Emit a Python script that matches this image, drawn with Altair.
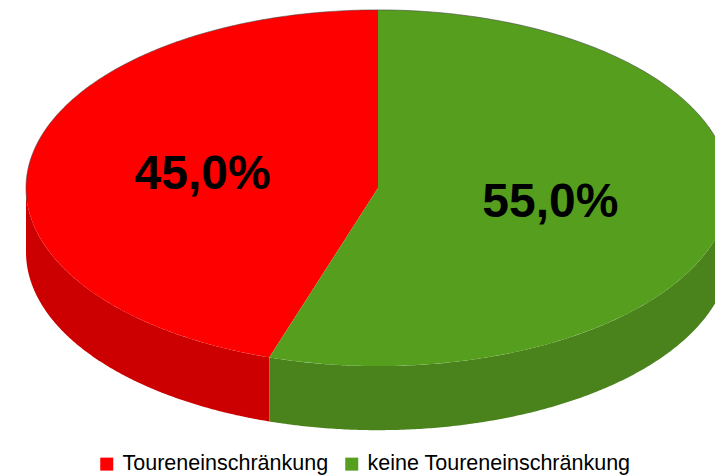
import altair as alt
import pandas as pd
import numpy as np

# ---- data ----
categories = ["Toureneinschränkung", "keine Toureneinschränkung"]
shares = [45.0, 55.0]
top_colors = ["#FF0000", "#559E1E"]
side_colors = ["#CC0000", "#4A821C"]

# ---- 3D-pie geometry (unit coordinates) ----
RY = 0.506      # vertical squash of the ellipse
DEPTH = 0.182   # thickness of the pie
N = 240
LABEL_R = 0.5

rows_top, rows_side, rows_lab = [], [], []
a0 = -shares[0] * 3.6
for cat, s, sc in zip(categories, shares, side_colors):
    a1 = a0 + s * 3.6
    # top face
    i = 0
    rows_top.append(dict(cat=cat, x=0.0, y=0.0, i=i))
    for t in np.linspace(a0, a1, N):
        i += 1
        r = np.radians(t)
        rows_top.append(dict(cat=cat, x=float(np.sin(r)), y=float(RY * np.cos(r)), i=i))
    # side face (visible front part, 90..270 deg)
    b0, b1 = (a0 + 360, a1 + 360) if a0 < 0 else (a0, a1)
    lo, hi = max(b0, 90), min(b1, 270)
    if lo < hi:
        th = np.linspace(lo, hi, N)
        j = 0
        for t in th:
            r = np.radians(t)
            rows_side.append(dict(cat=cat, col=sc, x=float(np.sin(r)), y=float(RY * np.cos(r)), i=j))
            j += 1
        for t in th[::-1]:
            r = np.radians(t)
            rows_side.append(dict(cat=cat, col=sc, x=float(np.sin(r)), y=float(RY * np.cos(r) - DEPTH), i=j))
            j += 1
    mid = np.radians((a0 + a1) / 2)
    rows_lab.append(dict(cat=cat, x=float(LABEL_R * np.sin(mid)), y=float(RY * LABEL_R * np.cos(mid)),
                         label=f"{s:.1f}".replace(".", ",") + "%"))
    a0 = a1

# back rim outline (far half of the ellipse)
rim = [dict(x=float(np.sin(np.radians(t))), y=float(RY * np.cos(np.radians(t))), i=k)
       for k, t in enumerate(np.linspace(-95, 95, N))]

top_df = pd.DataFrame(rows_top)
side_df = pd.DataFrame(rows_side)
lab_df = pd.DataFrame(rows_lab)
rim_df = pd.DataFrame(rim)

# ---- layout ----
W, H = 707, 467
PX = 352
cx_px, cy_px = 370, 180
xs = alt.Scale(domain=[-cx_px / PX, (W - cx_px) / PX], nice=False, zero=False)
ys = alt.Scale(domain=[(cy_px - H) / PX, cy_px / PX], nice=False, zero=False)

sides = alt.Chart(side_df).mark_line(filled=True, strokeWidth=0).encode(
    x=alt.X("x:Q", scale=xs, axis=None),
    y=alt.Y("y:Q", scale=ys, axis=None),
    color=alt.Color("col:N", scale=None),
    detail="cat:N",
    order=alt.Order("i:Q"),
)

tops = alt.Chart(top_df).mark_line(filled=True, strokeWidth=0).encode(
    x=alt.X("x:Q", scale=xs, axis=None),
    y=alt.Y("y:Q", scale=ys, axis=None),
    color=alt.Color(
        "cat:N",
        scale=alt.Scale(domain=categories, range=top_colors),
        legend=alt.Legend(
            title=None, orient="none", legendX=88, legendY=445, direction="horizontal",
            symbolType="square", symbolSize=169, symbolStrokeWidth=0,
            labelFont="Liberation Sans", labelFontSize=21.5, labelColor="black",
            labelOffset=5, columnPadding=12, labelLimit=500,
        ),
    ),
    order=alt.Order("i:Q"),
)

rim_line = alt.Chart(rim_df).mark_line(color="#444444", strokeWidth=0.8, opacity=0.7).encode(
    x=alt.X("x:Q", scale=xs, axis=None),
    y=alt.Y("y:Q", scale=ys, axis=None),
    order=alt.Order("i:Q"),
)

labels = alt.Chart(lab_df).mark_text(
    font="Liberation Sans", fontSize=48, fontWeight="bold", color="black",
    align="center", baseline="middle", dx=-1.5, dy=1,
).encode(
    x=alt.X("x:Q", scale=xs, axis=None),
    y=alt.Y("y:Q", scale=ys, axis=None),
    text="label:N",
)

chart = alt.layer(sides, tops, rim_line, labels).resolve_scale(color="independent").properties(
    width=W, height=H, autosize=alt.AutoSizeParams(type="none"), padding=0,
    background="white",
).configure_view(stroke=None)

chart.save("out.html", embed_options={"renderer": "svg", "actions": False})
